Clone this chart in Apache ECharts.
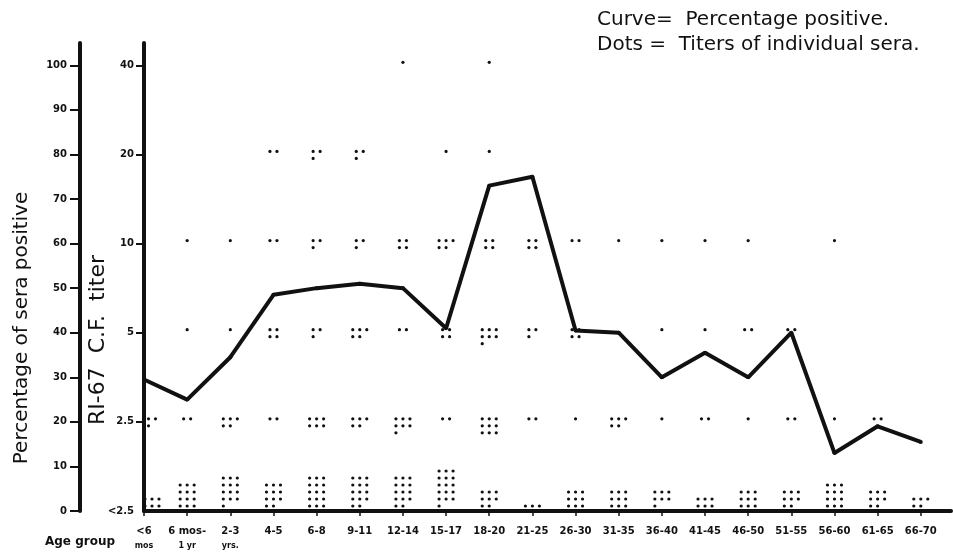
<!DOCTYPE html>
<html>
<head>
<meta charset="utf-8">
<script src="https://cdn.jsdelivr.net/npm/echarts@6/dist/echarts.min.js"></script>
<style>
  html, body { margin: 0; padding: 0; background: #fff; }
  #chart { width: 953px; height: 554px; }
</style>
</head>
<body>
<div id="chart"></div>
<script>
// age groups (two-line labels)
var ageGroups = ['<6', '6 mos-', '2-3', '4-5', '6-8', '9-11', '12-14', '15-17', '18-20', '21-25',
  '26-30', '31-35', '36-40', '41-45', '46-50', '51-55', '56-60', '61-65', '66-70']
var ageSub = ['mos', '1 yr', 'yrs.', '', '', '', '', '', '', '', '', '', '', '', '', '', '', '', '']

// curve = percentage of sera positive
var percentPositive = [29.5, 25, 34.5, 48.5, 50, 51, 50, 41, 73, 75, 40.5, 40, 30, 35.5, 30, 40, 13, 19, 15.5]

// titer levels, bottom to top
var titerLabels = ['<2.5', '2.5', '5', '10', '20', '40']
var percentTicks = [0, 10, 20, 30, 40, 50, 60, 70, 80, 90, 100]

// number of individual sera at each titer, per age group
var countLt25 = [6, 12, 13, 11, 15, 14, 14, 16, 8, 3, 9, 9, 7, 6, 9, 8, 12, 8, 5]
var count25 = [3, 2, 5, 2, 6, 5, 7, 2, 9, 2, 1, 5, 1, 2, 1, 2, 1, 2, 0]
var count5 = [0, 1, 1, 4, 3, 5, 2, 4, 7, 3, 4, 0, 1, 1, 2, 2, 0, 0, 0]
var count10 = [0, 1, 1, 2, 3, 3, 4, 5, 4, 4, 2, 1, 1, 1, 1, 0, 1, 0, 0]
var count20 = [0, 0, 0, 2, 3, 3, 0, 1, 1, 0, 0, 0, 0, 0, 0, 0, 0, 0, 0]
var count40 = [0, 0, 0, 0, 0, 0, 1, 0, 1, 0, 0, 0, 0, 0, 0, 0, 0, 0, 0]

var countsByLevel = [countLt25, count25, count5, count10, count20, count40]
var dotData = []
countsByLevel.forEach(function(arr, lvl) {
  arr.forEach(function(n, i) {
    if (n > 0) dotData.push([i, lvl, n])
  })
})

var ink = '#111'
var catIdx = ageGroups.map(function(d, i) { return i })

var chart = echarts.init(document.getElementById('chart'))

chart.setOption({
  backgroundColor: '#fff',
  animation: false,
  grid: { left: 144, right: 2, top: 43, bottom: 43 },
  xAxis: {
    type: 'value',
    min: 0,
    max: 18.7,
    splitLine: { show: false },
    axisLine: { onZero: false, lineStyle: { color: ink, width: 4 } },
    axisTick: { customValues: catIdx, length: 5, lineStyle: { color: ink, width: 1.5 } },
    axisLabel: {
      customValues: catIdx,
      margin: 13,
      formatter: function(v) {
        var s = ageSub[v]
        return '{a|' + ageGroups[v] + '}' + (s ? '\n{b|' + s + '}' : '')
      },
      rich: {
        a: { fontFamily: 'DejaVu Sans', fontWeight: 'bold', fontSize: 10, color: ink, lineHeight: 15 },
        b: { fontFamily: 'DejaVu Sans', fontWeight: 'bold', fontSize: 8, color: ink, lineHeight: 13 }
      }
    }
  },
  yAxis: [{
    type: 'value',
    position: 'left',
    offset: 64,
    min: 0,
    max: 105,
    splitLine: { show: false },
    axisLine: { show: true, onZero: false, lineStyle: { color: ink, width: 4 } },
    axisTick: { show: true, customValues: percentTicks, length: 10, lineStyle: { color: ink, width: 2 } },
    axisLabel: {
      customValues: percentTicks,
      margin: 13,
      fontFamily: 'DejaVu Sans',
      fontWeight: 'bold',
      fontSize: 10,
      color: ink
    }
  }, {
    type: 'value',
    position: 'left',
    min: 0,
    max: 5.25,
    splitLine: { show: false },
    axisLine: { show: true, onZero: false, lineStyle: { color: ink, width: 4 } },
    axisTick: { show: true, customValues: [1, 2, 3, 4, 5], length: 8, lineStyle: { color: ink, width: 2 } },
    axisLabel: {
      customValues: [0, 1, 2, 3, 4, 5],
      margin: 10,
      fontFamily: 'DejaVu Sans',
      fontWeight: 'bold',
      fontSize: 10,
      color: ink,
      formatter: function(v) { return titerLabels[v] }
    }
  }],
  graphic: [{
    type: 'text', x: 597, y: 20,
    style: { text: 'Curve=  Percentage positive.', font: '20px "DejaVu Sans"', fill: ink, verticalAlign: 'middle' }
  }, {
    type: 'text', x: 597, y: 45,
    style: { text: 'Dots =  Titers of individual sera.', font: '20px "DejaVu Sans"', fill: ink, verticalAlign: 'middle' }
  }, {
    type: 'text', x: 22, y: 328, rotation: Math.PI / 2,
    style: { text: 'Percentage of sera positive', font: '20px "DejaVu Sans"', fill: ink, align: 'center', verticalAlign: 'middle' }
  }, {
    type: 'text', x: 98, y: 340, rotation: Math.PI / 2,
    style: { text: 'RI-67  C.F.  titer', font: '22px "DejaVu Sans"', fill: ink, align: 'center', verticalAlign: 'middle' }
  }, {
    type: 'text', x: 80, y: 542,
    style: { text: 'Age group', font: 'bold 12px "DejaVu Sans"', fill: ink, align: 'center', verticalAlign: 'middle' }
  }],
  series: [{
    name: 'Percentage positive',
    type: 'line',
    yAxisIndex: 0,
    data: percentPositive.map(function(v, i) { return [i, v] }),
    symbol: 'circle',
    symbolSize: 4,
    itemStyle: { color: ink },
    lineStyle: { color: ink, width: 4 },
    z: 3
  }, {
    name: 'Titers of individual sera',
    type: 'custom',
    yAxisIndex: 1,
    data: dotData,
    renderItem: function(params, api) {
      var cat = api.value(0)
      var lvl = api.value(1)
      var n = api.value(2)
      var p = api.coord([cat, lvl])
      var gap = 7
      var cols = lvl === 0 ? Math.min(n, 3) : (n <= 4 ? Math.min(n, 2) : 3)
      var rows = Math.ceil(n / cols)
      var x0 = p[0] - (cols - 1) * gap / 2 + (cat === 0 ? 8 : 0)
      var y0 = lvl === 0 ? p[1] - 5 - (rows - 1) * gap : p[1] - 3
      var children = []
      for (var i = 0; i < n; i++) {
        children.push({
          type: 'circle',
          shape: { cx: x0 + (i % cols) * gap, cy: y0 + Math.floor(i / cols) * gap, r: 1.6 },
          style: { fill: ink }
        })
      }
      return { type: 'group', children: children }
    },
    z: 2
  }]
})
</script>
</body>
</html>
